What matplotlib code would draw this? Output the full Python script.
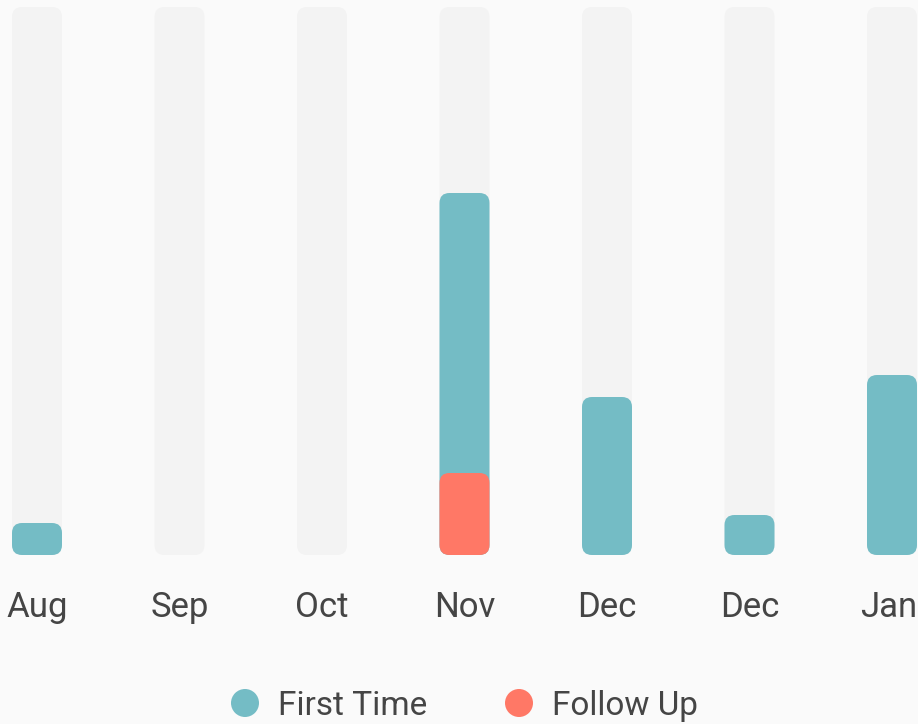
import numpy as np
import matplotlib.pyplot as plt
from matplotlib.patches import FancyBboxPatch, Circle

plt.rcParams['font.family'] = ['Roboto', 'DejaVu Sans']

# Datos por mes
months = ['Aug', 'Sep', 'Oct', 'Nov', 'Dec', 'Dec', 'Jan']
first_time = [1.6, 0, 0, 18.1, 7.9, 2.0, 9.0]
follow_up = [0, 0, 0, 4.1, 0, 0, 0]
y_max = 27.4
series = ['First Time', 'Follow Up']

clr_bg = '#fafafa'
clr_track = '#f3f3f3'
clr_first = '#74bcc5'
clr_follow = '#ff7866'
clr_text = '#454545'

W, H = 918, 724
fig = plt.figure(figsize=(W/100, H/100), dpi=100, facecolor=clr_bg)
ax = fig.add_axes([0, (H-555)/H, 1, 548/H])
ax.set_facecolor(clr_bg)
x0, x1 = -37/142.5, (W-37)/142.5
ax.set_xlim(x0, x1)
ax.set_ylim(0, y_max)
ax.axis('off')

# escala en pixeles para redondear las esquinas igual en x y en y
ux = W/(x1-x0)
uy = 548/y_max
bw = 50/ux
rad = 10/ux
aspect = ux/uy

def rbar(x, h, color):
    if h <= 0:
        return
    p = FancyBboxPatch((x-bw/2, 0), bw, h,
                       boxstyle=f"round,pad=0,rounding_size={rad}",
                       mutation_aspect=aspect, fc=color, ec='none', clip_on=False)
    ax.add_patch(p)

x = np.arange(len(months))
for i in x:
    rbar(i, y_max, clr_track)
    rbar(i, first_time[i], clr_first)
    rbar(i, follow_up[i], clr_follow)
    ax.text(i - (0.02 if i == len(months)-1 else 0), -62/uy, months[i],
            ha='center', va='baseline', fontsize=25, color=clr_text, clip_on=False)

# Leyenda (en pixeles de la figura)
lg = fig.add_axes([0, 0, 1, 1], facecolor='none')
lg.set_xlim(0, W)
lg.set_ylim(H, 0)
lg.axis('off')
for cx, lab, c in zip([245, 519], series, [clr_first, clr_follow]):
    lg.add_patch(Circle((cx, 703), 14, fc=c, ec='none'))
    lg.text(cx+33, 715, lab, ha='left', va='baseline',
            fontsize=24, color=clr_text)

fig.savefig('out.png', dpi=100, facecolor=clr_bg)
